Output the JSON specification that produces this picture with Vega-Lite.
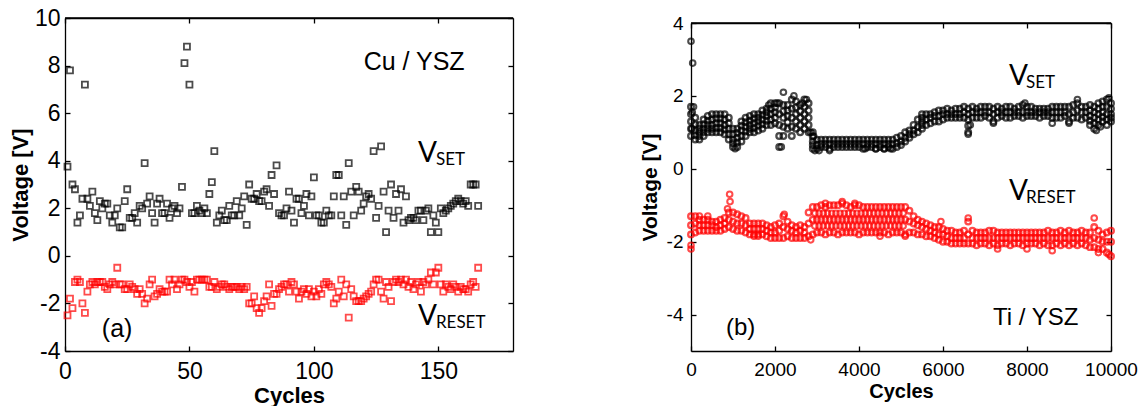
{
  "$schema": "https://vega.github.io/schema/vega-lite/v6.json",
  "padding": {"left": 9, "top": 7, "right": 0, "bottom": 0},
  "config": {
    "view": {"stroke": null},
    "font": "Liberation Sans",
    "axis": {"grid": false, "domainColor": "black", "tickColor": "black", "labelColor": "black", "titleColor": "black", "domainWidth": 1.3, "tickWidth": 1.3, "labelFont": "Liberation Sans", "titleFont": "Liberation Sans", "labelFlush": false, "labelOverlap": false}
  },
  "datasets": {
    "cuSet": [
      {"n":1,"v":3.75},{"n":2,"v":7.8},{"n":3,"v":3.0},{"n":4,"v":2.8},{"n":5,"v":1.4},{"n":6,"v":1.7},{"n":7,"v":2.4},{"n":8,"v":7.2},{"n":9,"v":2.4},{"n":10,"v":2.1},
      {"n":11,"v":2.7},{"n":12,"v":1.8},{"n":13,"v":1.5},{"n":14,"v":2.3},{"n":15,"v":2.0},{"n":16,"v":2.2},{"n":17,"v":2.2},{"n":18,"v":1.7},{"n":19,"v":1.4},{"n":20,"v":1.7},
      {"n":21,"v":2.0},{"n":22,"v":1.2},{"n":23,"v":1.2},{"n":24,"v":2.3},{"n":25,"v":2.8},{"n":26,"v":1.6},{"n":27,"v":1.6},{"n":28,"v":1.8},{"n":29,"v":1.4},{"n":30,"v":2.1},
      {"n":31,"v":2.0},{"n":32,"v":3.9},{"n":33,"v":2.2},{"n":34,"v":2.5},{"n":35,"v":1.8},{"n":36,"v":1.4},{"n":37,"v":2.2},{"n":38,"v":2.4},{"n":39,"v":1.8},{"n":40,"v":1.8},
      {"n":41,"v":2.2},{"n":42,"v":1.6},{"n":43,"v":2.0},{"n":44,"v":2.1},{"n":45,"v":1.8},{"n":46,"v":2.0},{"n":47,"v":2.9},{"n":48,"v":8.1},{"n":49,"v":8.8},{"n":50,"v":7.2},
      {"n":51,"v":1.8},{"n":52,"v":1.8},{"n":53,"v":2.1},{"n":54,"v":1.9},{"n":55,"v":1.8},{"n":56,"v":2.0},{"n":57,"v":1.8},{"n":58,"v":2.6},{"n":59,"v":3.1},{"n":60,"v":4.4},
      {"n":61,"v":1.4},{"n":62,"v":1.7},{"n":63,"v":1.9},{"n":64,"v":1.5},{"n":65,"v":1.5},{"n":66,"v":2.1},{"n":67,"v":1.7},{"n":68,"v":1.7},{"n":69,"v":2.3},{"n":70,"v":1.7},
      {"n":71,"v":2.0},{"n":72,"v":2.5},{"n":73,"v":1.3},{"n":74,"v":3.0},{"n":75,"v":2.4},{"n":76,"v":2.4},{"n":77,"v":2.6},{"n":78,"v":2.3},{"n":79,"v":2.3},{"n":80,"v":2.7},
      {"n":81,"v":2.8},{"n":82,"v":2.1},{"n":83,"v":3.4},{"n":84,"v":2.6},{"n":85,"v":3.8},{"n":86,"v":1.8},{"n":87,"v":1.7},{"n":88,"v":1.7},{"n":89,"v":2.0},{"n":90,"v":2.7},
      {"n":91,"v":1.9},{"n":92,"v":1.4},{"n":93,"v":2.4},{"n":94,"v":2.4},{"n":95,"v":1.8},{"n":96,"v":2.1},{"n":97,"v":2.6},{"n":98,"v":1.7},{"n":99,"v":2.5},{"n":100,"v":3.3},
      {"n":101,"v":1.7},{"n":102,"v":1.7},{"n":103,"v":1.4},{"n":104,"v":1.4},{"n":105,"v":1.9},{"n":106,"v":1.7},{"n":107,"v":1.7},{"n":108,"v":2.5},{"n":109,"v":3.4},{"n":110,"v":3.4},
      {"n":111,"v":1.7},{"n":112,"v":2.5},{"n":113,"v":1.3},{"n":114,"v":3.9},{"n":115,"v":2.7},{"n":116,"v":1.7},{"n":117,"v":2.9},{"n":118,"v":2.7},{"n":119,"v":1.9},{"n":120,"v":2.2},
      {"n":121,"v":2.5},{"n":122,"v":2.6},{"n":123,"v":2.4},{"n":124,"v":4.4},{"n":125,"v":1.6},{"n":126,"v":2.1},{"n":127,"v":4.6},{"n":128,"v":2.7},{"n":129,"v":1.0},{"n":130,"v":1.9},
      {"n":131,"v":3.0},{"n":132,"v":1.6},{"n":133,"v":2.6},{"n":134,"v":1.9},{"n":135,"v":2.8},{"n":136,"v":1.4},{"n":137,"v":2.5},{"n":138,"v":1.5},{"n":139,"v":1.6},{"n":140,"v":1.6},
      {"n":141,"v":1.5},{"n":142,"v":1.9},{"n":143,"v":1.9},{"n":144,"v":1.5},{"n":145,"v":1.9},{"n":146,"v":2.0},{"n":147,"v":1.0},{"n":148,"v":1.7},{"n":149,"v":1.4},{"n":150,"v":1.0},
      {"n":151,"v":2.0},{"n":152,"v":1.8},{"n":153,"v":1.9},{"n":154,"v":2.0},{"n":155,"v":2.1},{"n":156,"v":2.2},{"n":157,"v":2.3},{"n":158,"v":2.4},{"n":159,"v":2.3},{"n":160,"v":2.2},
      {"n":161,"v":2.3},{"n":162,"v":2.1},{"n":163,"v":3.0},{"n":164,"v":3.0},{"n":165,"v":3.0},{"n":166,"v":2.1}
    ],
    "cuReset": [
      {"n":1,"v":-2.5},{"n":2,"v":-1.8},{"n":3,"v":-2.2},{"n":4,"v":-1.1},{"n":5,"v":-1.0},{"n":6,"v":-1.1},{"n":7,"v":-2.0},{"n":8,"v":-2.4},{"n":9,"v":-1.5},{"n":10,"v":-1.2},
      {"n":11,"v":-1.1},{"n":12,"v":-1.2},{"n":13,"v":-1.1},{"n":14,"v":-1.1},{"n":15,"v":-1.1},{"n":16,"v":-1.3},{"n":17,"v":-1.4},{"n":18,"v":-1.2},{"n":19,"v":-1.1},{"n":20,"v":-1.2},
      {"n":21,"v":-0.5},{"n":22,"v":-1.2},{"n":23,"v":-1.2},{"n":24,"v":-1.4},{"n":25,"v":-1.4},{"n":26,"v":-1.2},{"n":27,"v":-1.3},{"n":28,"v":-1.4},{"n":29,"v":-1.6},{"n":30,"v":-1.4},
      {"n":31,"v":-1.6},{"n":32,"v":-2.0},{"n":33,"v":-1.8},{"n":34,"v":-1.2},{"n":35,"v":-1.0},{"n":36,"v":-1.7},{"n":37,"v":-1.6},{"n":38,"v":-1.4},{"n":39,"v":-1.5},{"n":40,"v":-1.5},
      {"n":41,"v":-1.5},{"n":42,"v":-1.0},{"n":43,"v":-1.2},{"n":44,"v":-1.0},{"n":45,"v":-1.4},{"n":46,"v":-1.2},{"n":47,"v":-1.0},{"n":48,"v":-1.0},{"n":49,"v":-1.1},{"n":50,"v":-1.3},
      {"n":51,"v":-1.1},{"n":52,"v":-1.5},{"n":53,"v":-1.0},{"n":54,"v":-1.0},{"n":55,"v":-1.0},{"n":56,"v":-1.0},{"n":57,"v":-1.0},{"n":58,"v":-1.3},{"n":59,"v":-1.3},{"n":60,"v":-1.1},
      {"n":61,"v":-1.4},{"n":62,"v":-1.3},{"n":63,"v":-1.2},{"n":64,"v":-1.2},{"n":65,"v":-1.3},{"n":66,"v":-1.4},{"n":67,"v":-1.3},{"n":68,"v":-1.3},{"n":69,"v":-1.3},{"n":70,"v":-1.4},
      {"n":71,"v":-1.3},{"n":72,"v":-1.4},{"n":73,"v":-1.3},{"n":74,"v":-2.0},{"n":75,"v":-2.0},{"n":76,"v":-1.7},{"n":77,"v":-2.2},{"n":78,"v":-2.4},{"n":79,"v":-2.2},{"n":80,"v":-1.9},
      {"n":81,"v":-1.7},{"n":82,"v":-1.2},{"n":83,"v":-2.1},{"n":84,"v":-1.6},{"n":85,"v":-1.6},{"n":86,"v":-1.4},{"n":87,"v":-1.3},{"n":88,"v":-1.2},{"n":89,"v":-1.2},{"n":90,"v":-1.5},
      {"n":91,"v":-1.1},{"n":92,"v":-1.2},{"n":93,"v":-1.5},{"n":94,"v":-1.8},{"n":95,"v":-1.5},{"n":96,"v":-1.4},{"n":97,"v":-1.6},{"n":98,"v":-1.4},{"n":99,"v":-1.7},{"n":100,"v":-1.5},
      {"n":101,"v":-1.7},{"n":102,"v":-1.4},{"n":103,"v":-1.6},{"n":104,"v":-1.2},{"n":105,"v":-1.1},{"n":106,"v":-1.2},{"n":107,"v":-1.3},{"n":108,"v":-2.0},{"n":109,"v":-1.8},{"n":110,"v":-1.5},
      {"n":111,"v":-1.0},{"n":112,"v":-1.7},{"n":113,"v":-1.2},{"n":114,"v":-2.6},{"n":115,"v":-1.4},{"n":116,"v":-1.7},{"n":117,"v":-1.9},{"n":118,"v":-1.9},{"n":119,"v":-1.9},{"n":120,"v":-1.8},
      {"n":121,"v":-1.7},{"n":122,"v":-1.6},{"n":123,"v":-1.5},{"n":124,"v":-1.2},{"n":125,"v":-1.0},{"n":126,"v":-1.0},{"n":127,"v":-1.5},{"n":128,"v":-1.8},{"n":129,"v":-1.1},{"n":130,"v":-1.3},
      {"n":131,"v":-1.9},{"n":132,"v":-1.1},{"n":133,"v":-1.0},{"n":134,"v":-1.1},{"n":135,"v":-1.0},{"n":136,"v":-1.2},{"n":137,"v":-1.0},{"n":138,"v":-1.3},{"n":139,"v":-1.1},{"n":140,"v":-1.4},
      {"n":141,"v":-1.2},{"n":142,"v":-1.1},{"n":143,"v":-1.5},{"n":144,"v":-1.1},{"n":145,"v":-1.2},{"n":146,"v":-1.0},{"n":147,"v":-0.7},{"n":148,"v":-1.2},{"n":149,"v":-0.7},{"n":150,"v":-0.5},
      {"n":151,"v":-1.2},{"n":152,"v":-1.5},{"n":153,"v":-1.2},{"n":154,"v":-1.3},{"n":155,"v":-1.4},{"n":156,"v":-1.2},{"n":157,"v":-1.3},{"n":158,"v":-1.5},{"n":159,"v":-1.3},{"n":160,"v":-1.4},
      {"n":161,"v":-1.4},{"n":162,"v":-1.5},{"n":163,"v":-1.2},{"n":164,"v":-1.1},{"n":165,"v":-1.3},{"n":166,"v":-0.5}
    ],
    "ti": [
      {"c":0,"s1":0.9,"s2":1.3,"s3":1.7,"s4":1.1,"s5":1.5,"r1":-1.8,"r2":-1.55,"r3":-1.3},
      {"c":100,"s1":0.8,"s2":1.05,"s3":1.4,"s4":0.92,"s5":1.22,"r1":-1.75,"r2":-1.5,"r3":-1.3},
      {"c":200,"s1":0.8,"s2":1.0,"s3":1.2,"s4":0.9,"s5":1.1,"r1":-1.7,"r2":-1.55,"r3":-1.4},
      {"c":300,"s1":0.9,"s2":1.1,"s3":1.35,"s4":1.0,"s5":1.22,"r1":-1.7,"r2":-1.55,"r3":-1.4},
      {"c":400,"s1":1.0,"s2":1.2,"s3":1.45,"s4":1.1,"s5":1.32,"r1":-1.7,"r2":-1.55,"r3":-1.4},
      {"c":500,"s1":1.0,"s2":1.2,"s3":1.5,"s4":1.1,"s5":1.35,"r1":-1.7,"r2":-1.55,"r3":-1.45},
      {"c":600,"s1":1.0,"s2":1.25,"s3":1.5,"s4":1.12,"s5":1.38,"r1":-1.7,"r2":-1.6,"r3":-1.45},
      {"c":700,"s1":1.0,"s2":1.25,"s3":1.5,"s4":1.12,"s5":1.38,"r1":-1.7,"r2":-1.55,"r3":-1.4},
      {"c":800,"s1":0.95,"s2":1.2,"s3":1.5,"s4":1.08,"s5":1.35,"r1":-1.65,"r2":-1.5,"r3":-1.35},
      {"c":900,"s1":0.8,"s2":1.1,"s3":1.4,"s4":0.95,"s5":1.25,"r1":-1.6,"r2":-1.4,"r3":-1.2},
      {"c":1000,"s1":0.6,"s2":0.8,"s3":1.1,"s4":0.7,"s5":0.95,"r1":-1.65,"r2":-1.45,"r3":-1.2},
      {"c":1100,"s1":0.6,"s2":0.85,"s3":1.1,"s4":0.72,"s5":0.98,"r1":-1.7,"r2":-1.5,"r3":-1.25},
      {"c":1200,"s1":0.75,"s2":1.05,"s3":1.3,"s4":0.9,"s5":1.18,"r1":-1.7,"r2":-1.5,"r3":-1.3},
      {"c":1300,"s1":0.9,"s2":1.15,"s3":1.4,"s4":1.02,"s5":1.28,"r1":-1.75,"r2":-1.55,"r3":-1.35},
      {"c":1400,"s1":1.0,"s2":1.2,"s3":1.45,"s4":1.1,"s5":1.32,"r1":-1.8,"r2":-1.65,"r3":-1.5},
      {"c":1500,"s1":1.0,"s2":1.25,"s3":1.5,"s4":1.12,"s5":1.38,"r1":-1.8,"r2":-1.65,"r3":-1.5},
      {"c":1600,"s1":1.05,"s2":1.3,"s3":1.5,"s4":1.18,"s5":1.4,"r1":-1.8,"r2":-1.65,"r3":-1.5},
      {"c":1700,"s1":1.1,"s2":1.35,"s3":1.6,"s4":1.22,"s5":1.48,"r1":-1.8,"r2":-1.65,"r3":-1.5},
      {"c":1800,"s1":1.2,"s2":1.45,"s3":1.65,"s4":1.32,"s5":1.55,"r1":-1.85,"r2":-1.7,"r3":-1.55},
      {"c":1900,"s1":1.2,"s2":1.5,"s3":1.8,"s4":1.35,"s5":1.65,"r1":-1.9,"r2":-1.75,"r3":-1.6},
      {"c":2000,"s1":1.25,"s2":1.55,"s3":1.8,"s4":1.4,"s5":1.68,"r1":-1.9,"r2":-1.75,"r3":-1.55},
      {"c":2100,"s1":0.6,"s2":1.2,"s3":1.8,"s4":0.9,"s5":1.5,"r1":-1.9,"r2":-1.7,"r3":-1.5},
      {"c":2200,"s1":0.9,"s2":1.4,"s3":1.75,"s4":1.15,"s5":1.58,"r1":-1.9,"r2":-1.6,"r3":-1.3},
      {"c":2300,"s1":1.1,"s2":1.45,"s3":1.75,"s4":1.28,"s5":1.6,"r1":-1.85,"r2":-1.65,"r3":-1.45},
      {"c":2400,"s1":0.9,"s2":1.4,"s3":1.9,"s4":1.15,"s5":1.65,"r1":-1.9,"r2":-1.7,"r3":-1.55},
      {"c":2500,"s1":1.1,"s2":1.5,"s3":1.85,"s4":1.3,"s5":1.68,"r1":-1.9,"r2":-1.75,"r3":-1.6},
      {"c":2600,"s1":1.0,"s2":1.4,"s3":1.75,"s4":1.2,"s5":1.58,"r1":-1.9,"r2":-1.7,"r3":-1.55},
      {"c":2700,"s1":1.1,"s2":1.5,"s3":1.9,"s4":1.3,"s5":1.7,"r1":-1.9,"r2":-1.75,"r3":-1.6},
      {"c":2800,"s1":1.0,"s2":1.4,"s3":1.8,"s4":1.2,"s5":1.6,"r1":-1.85,"r2":-1.5,"r3":-1.2},
      {"c":2900,"s1":0.55,"s2":0.75,"s3":1.0,"s4":0.65,"s5":0.88,"r1":-1.8,"r2":-1.4,"r3":-1.05},
      {"c":3000,"s1":0.55,"s2":0.65,"s3":0.8,"r1":-1.75,"r2":-1.4,"r3":-1.05},
      {"c":3100,"s1":0.6,"s2":0.68,"s3":0.8,"r1":-1.75,"r2":-1.4,"r3":-1.0},
      {"c":3200,"s1":0.6,"s2":0.68,"s3":0.8,"r1":-1.8,"r2":-1.4,"r3":-1.05},
      {"c":3300,"s1":0.55,"s2":0.68,"s3":0.8,"r1":-1.75,"r2":-1.4,"r3":-1.0},
      {"c":3400,"s1":0.6,"s2":0.68,"s3":0.8,"r1":-1.75,"r2":-1.4,"r3":-1.0},
      {"c":3500,"s1":0.6,"s2":0.68,"s3":0.8,"r1":-1.8,"r2":-1.4,"r3":-1.0},
      {"c":3600,"s1":0.6,"s2":0.68,"s3":0.8,"r1":-1.75,"r2":-1.4,"r3":-0.95},
      {"c":3700,"s1":0.6,"s2":0.68,"s3":0.8,"r1":-1.75,"r2":-1.4,"r3":-1.0},
      {"c":3800,"s1":0.6,"s2":0.68,"s3":0.8,"r1":-1.75,"r2":-1.4,"r3":-1.05},
      {"c":3900,"s1":0.6,"s2":0.68,"s3":0.8,"r1":-1.75,"r2":-1.4,"r3":-1.0},
      {"c":4000,"s1":0.6,"s2":0.68,"s3":0.8,"r1":-1.8,"r2":-1.4,"r3":-1.0},
      {"c":4100,"s1":0.55,"s2":0.68,"s3":0.8,"r1":-1.75,"r2":-1.4,"r3":-1.05},
      {"c":4200,"s1":0.6,"s2":0.68,"s3":0.8,"r1":-1.75,"r2":-1.4,"r3":-1.05},
      {"c":4300,"s1":0.6,"s2":0.68,"s3":0.8,"r1":-1.75,"r2":-1.4,"r3":-1.05},
      {"c":4400,"s1":0.55,"s2":0.68,"s3":0.8,"r1":-1.75,"r2":-1.4,"r3":-1.05},
      {"c":4500,"s1":0.6,"s2":0.68,"s3":0.8,"r1":-1.75,"r2":-1.4,"r3":-1.05},
      {"c":4600,"s1":0.55,"s2":0.68,"s3":0.8,"r1":-1.75,"r2":-1.4,"r3":-1.05},
      {"c":4700,"s1":0.6,"s2":0.68,"s3":0.8,"r1":-1.8,"r2":-1.4,"r3":-1.05},
      {"c":4800,"s1":0.55,"s2":0.68,"s3":0.8,"r1":-1.75,"r2":-1.4,"r3":-1.05},
      {"c":4900,"s1":0.6,"s2":0.7,"s3":0.85,"r1":-1.75,"r2":-1.4,"r3":-1.05},
      {"c":5000,"s1":0.65,"s2":0.75,"s3":0.9,"r1":-1.75,"r2":-1.4,"r3":-1.05},
      {"c":5100,"s1":0.75,"s2":0.85,"s3":1.0,"r1":-1.8,"r2":-1.4,"r3":-1.05},
      {"c":5200,"s1":0.85,"s2":0.95,"s3":1.05,"r1":-1.75,"r2":-1.45,"r3":-1.15},
      {"c":5300,"s1":0.95,"s2":1.05,"s3":1.2,"r1":-1.75,"r2":-1.5,"r3":-1.3},
      {"c":5400,"s1":1.0,"s2":1.15,"s3":1.35,"r1":-1.8,"r2":-1.55,"r3":-1.4},
      {"c":5500,"s1":1.1,"s2":1.3,"s3":1.5,"s4":1.2,"s5":1.4,"r1":-1.8,"r2":-1.6,"r3":-1.45},
      {"c":5600,"s1":1.2,"s2":1.35,"s3":1.5,"r1":-1.85,"r2":-1.65,"r3":-1.5},
      {"c":5700,"s1":1.25,"s2":1.4,"s3":1.5,"r1":-1.85,"r2":-1.7,"r3":-1.55},
      {"c":5800,"s1":1.3,"s2":1.45,"s3":1.55,"r1":-1.9,"r2":-1.75,"r3":-1.6},
      {"c":5900,"s1":1.3,"s2":1.45,"s3":1.6,"r1":-1.95,"r2":-1.8,"r3":-1.6},
      {"c":6000,"s1":1.35,"s2":1.5,"s3":1.6,"r1":-2.0,"r2":-1.8,"r3":-1.65},
      {"c":6100,"s1":1.4,"s2":1.5,"s3":1.65,"r1":-2.0,"r2":-1.85,"r3":-1.7},
      {"c":6200,"s1":1.4,"s2":1.5,"s3":1.6,"r1":-2.05,"r2":-1.9,"r3":-1.7},
      {"c":6300,"s1":1.4,"s2":1.5,"s3":1.65,"r1":-2.05,"r2":-1.9,"r3":-1.75},
      {"c":6400,"s1":1.4,"s2":1.5,"s3":1.65,"r1":-2.05,"r2":-1.9,"r3":-1.75},
      {"c":6500,"s1":1.4,"s2":1.55,"s3":1.7,"r1":-2.05,"r2":-1.9,"r3":-1.7},
      {"c":6600,"s1":1.0,"s2":1.35,"s3":1.65,"s4":1.18,"s5":1.5,"r1":-2.05,"r2":-1.8,"r3":-1.45},
      {"c":6700,"s1":1.4,"s2":1.55,"s3":1.7,"r1":-2.05,"r2":-1.9,"r3":-1.7},
      {"c":6800,"s1":1.4,"s2":1.55,"s3":1.65,"r1":-2.1,"r2":-1.9,"r3":-1.75},
      {"c":6900,"s1":1.4,"s2":1.55,"s3":1.7,"r1":-2.05,"r2":-1.9,"r3":-1.75},
      {"c":7000,"s1":1.45,"s2":1.55,"s3":1.7,"r1":-2.05,"r2":-1.9,"r3":-1.75},
      {"c":7100,"s1":1.4,"s2":1.55,"s3":1.7,"r1":-2.1,"r2":-1.9,"r3":-1.7},
      {"c":7200,"s1":1.3,"s2":1.5,"s3":1.65,"r1":-2.05,"r2":-1.9,"r3":-1.7},
      {"c":7300,"s1":1.4,"s2":1.55,"s3":1.7,"r1":-2.1,"r2":-1.9,"r3":-1.75},
      {"c":7400,"s1":1.45,"s2":1.55,"s3":1.65,"r1":-2.05,"r2":-1.9,"r3":-1.75},
      {"c":7500,"s1":1.4,"s2":1.55,"s3":1.7,"r1":-2.05,"r2":-1.9,"r3":-1.75},
      {"c":7600,"s1":1.4,"s2":1.55,"s3":1.7,"r1":-2.1,"r2":-1.9,"r3":-1.75},
      {"c":7700,"s1":1.45,"s2":1.55,"s3":1.65,"r1":-2.05,"r2":-1.9,"r3":-1.75},
      {"c":7800,"s1":1.45,"s2":1.55,"s3":1.7,"r1":-2.05,"r2":-1.9,"r3":-1.75},
      {"c":7900,"s1":1.4,"s2":1.55,"s3":1.75,"r1":-2.1,"r2":-1.9,"r3":-1.75},
      {"c":8000,"s1":1.45,"s2":1.55,"s3":1.7,"r1":-2.05,"r2":-1.9,"r3":-1.75},
      {"c":8100,"s1":1.45,"s2":1.55,"s3":1.7,"r1":-2.05,"r2":-1.9,"r3":-1.75},
      {"c":8200,"s1":1.45,"s2":1.55,"s3":1.65,"r1":-2.05,"r2":-1.9,"r3":-1.75},
      {"c":8300,"s1":1.4,"s2":1.55,"s3":1.65,"r1":-2.1,"r2":-1.9,"r3":-1.75},
      {"c":8400,"s1":1.45,"s2":1.55,"s3":1.65,"r1":-2.05,"r2":-1.9,"r3":-1.75},
      {"c":8500,"s1":1.45,"s2":1.55,"s3":1.65,"r1":-2.1,"r2":-1.9,"r3":-1.7},
      {"c":8600,"s1":1.4,"s2":1.55,"s3":1.7,"r1":-2.1,"r2":-1.9,"r3":-1.75},
      {"c":8700,"s1":1.4,"s2":1.55,"s3":1.7,"r1":-2.05,"r2":-1.9,"r3":-1.75},
      {"c":8800,"s1":1.4,"s2":1.55,"s3":1.7,"r1":-2.1,"r2":-1.9,"r3":-1.7},
      {"c":8900,"s1":1.45,"s2":1.55,"s3":1.7,"r1":-2.05,"r2":-1.9,"r3":-1.75},
      {"c":9000,"s1":1.3,"s2":1.5,"s3":1.7,"r1":-2.1,"r2":-1.9,"r3":-1.7},
      {"c":9100,"s1":1.4,"s2":1.55,"s3":1.75,"r1":-2.05,"r2":-1.9,"r3":-1.75},
      {"c":9200,"s1":1.4,"s2":1.6,"s3":1.8,"r1":-2.1,"r2":-1.9,"r3":-1.75},
      {"c":9300,"s1":1.35,"s2":1.55,"s3":1.7,"r1":-2.05,"r2":-1.9,"r3":-1.7},
      {"c":9400,"s1":1.4,"s2":1.55,"s3":1.7,"r1":-2.1,"r2":-1.9,"r3":-1.75},
      {"c":9500,"s1":1.2,"s2":1.45,"s3":1.75,"s4":1.32,"s5":1.6,"r1":-2.15,"r2":-1.95,"r3":-1.75},
      {"c":9600,"s1":1.1,"s2":1.4,"s3":1.7,"s4":1.25,"s5":1.55,"r1":-2.15,"r2":-1.9,"r3":-1.6},
      {"c":9700,"s1":1.2,"s2":1.5,"s3":1.8,"s4":1.35,"s5":1.65,"r1":-2.2,"r2":-1.95,"r3":-1.7},
      {"c":9800,"s1":1.3,"s2":1.55,"s3":1.85,"s4":1.42,"s5":1.7,"r1":-2.2,"r2":-2.0,"r3":-1.8},
      {"c":9900,"s1":1.2,"s2":1.5,"s3":1.9,"s4":1.35,"s5":1.7,"r1":-2.3,"r2":-2.0,"r3":-1.75},
      {"c":10000,"s1":1.3,"s2":1.5,"s3":1.8,"s4":1.4,"s5":1.65,"r1":-2.4,"r2":-2.0,"r3":-1.7}
    ],
    "tiSetX": [
      {"c":0,"v":3.5},{"c":40,"v":2.9},{"c":60,"v":1.7},{"c":30,"v":1.55},{"c":20,"v":1.1},{"c":1050,"v":0.55},{"c":1850,"v":1.75},{"c":2050,"v":1.8},{"c":2150,"v":0.6},{"c":2200,"v":2.1},
      {"c":2450,"v":2.0},{"c":2650,"v":1.8},{"c":2750,"v":1.9},{"c":2850,"v":1.0},{"c":2920,"v":0.9},{"c":2950,"v":0.5},{"c":3050,"v":0.5},{"c":3300,"v":0.5},{"c":4150,"v":0.55},{"c":4400,"v":0.55},
      {"c":4600,"v":0.55},{"c":4750,"v":0.55},{"c":6600,"v":0.95},{"c":6650,"v":1.2},{"c":7200,"v":1.25},{"c":7950,"v":1.8},{"c":8600,"v":1.25},{"c":9000,"v":1.25},{"c":9200,"v":1.9},{"c":9650,"v":1.05},
      {"c":9750,"v":1.15},{"c":9950,"v":1.95}
    ],
    "tiResetX": [
      {"c":0,"v":-2.1},{"c":0,"v":-2.2},{"c":200,"v":-1.3},{"c":400,"v":-1.3},{"c":870,"v":-1.1},{"c":920,"v":-0.7},{"c":930,"v":-0.9},{"c":1500,"v":-1.85},{"c":1600,"v":-1.85},{"c":2220,"v":-1.25},
      {"c":2850,"v":-1.95},{"c":3200,"v":-0.95},{"c":3600,"v":-0.9},{"c":3900,"v":-0.95},{"c":4500,"v":-1.85},{"c":5100,"v":-1.85},{"c":5950,"v":-1.45},{"c":6600,"v":-1.35},{"c":7300,"v":-2.2},{"c":8000,"v":-2.2},
      {"c":8600,"v":-2.25},{"c":9600,"v":-1.35},{"c":9700,"v":-2.3},{"c":9950,"v":-2.35},
      {"c":2950,"v":-1.57},{"c":2950,"v":-1.22},{"c":3050,"v":-1.57},{"c":3050,"v":-1.22},{"c":3150,"v":-1.57},{"c":3150,"v":-1.22},{"c":3250,"v":-1.57},{"c":3250,"v":-1.22},
      {"c":3350,"v":-1.57},{"c":3350,"v":-1.22},{"c":3450,"v":-1.57},{"c":3450,"v":-1.22},{"c":3550,"v":-1.57},{"c":3550,"v":-1.22},{"c":3650,"v":-1.57},{"c":3650,"v":-1.22},
      {"c":3750,"v":-1.57},{"c":3750,"v":-1.22},{"c":3850,"v":-1.57},{"c":3850,"v":-1.22},{"c":3950,"v":-1.57},{"c":3950,"v":-1.22},{"c":4050,"v":-1.57},{"c":4050,"v":-1.22},
      {"c":4150,"v":-1.57},{"c":4150,"v":-1.22},{"c":4250,"v":-1.57},{"c":4250,"v":-1.22},{"c":4350,"v":-1.57},{"c":4350,"v":-1.22},{"c":4450,"v":-1.57},{"c":4450,"v":-1.22},
      {"c":4550,"v":-1.57},{"c":4550,"v":-1.22},{"c":4650,"v":-1.57},{"c":4650,"v":-1.22},{"c":4750,"v":-1.57},{"c":4750,"v":-1.22},{"c":4850,"v":-1.57},{"c":4850,"v":-1.22},
      {"c":4950,"v":-1.57},{"c":4950,"v":-1.22},{"c":5050,"v":-1.57},{"c":5050,"v":-1.22}
    ]
  },
  "spacing": 125,
  "hconcat": [
    {
      "width": 448,
      "height": 333,
      "resolve": {"axis": {"x": "independent", "y": "independent"}},
      "layer": [
        {
          "data": {"name": "cuSet"},
          "mark": {"type": "point", "shape": "square", "filled": false, "color": "black", "size": 36, "strokeWidth": 1.8},
          "encoding": {
            "x": {"field": "n", "type": "quantitative", "scale": {"domain": [0, 180], "nice": false, "zero": false},
                  "axis": {"orient": "bottom", "values": [0, 50, 100, 150], "tickSize": -5, "labelPadding": 14, "labelFontSize": 23, "labelExpr": "'' + datum.value", "title": "Cycles", "titleFontSize": 22, "titleFontWeight": "bold", "titlePadding": 2}},
            "y": {"field": "v", "type": "quantitative", "scale": {"domain": [-4, 10], "nice": false, "zero": false},
                  "axis": {"orient": "left", "values": [-4, -2, 0, 2, 4, 6, 8, 10], "tickSize": -5, "labelPadding": 10, "labelFontSize": 23, "labelExpr": "'' + datum.value", "title": "Voltage [V]", "titleFontSize": 22, "titleFontWeight": "bold", "titlePadding": 2}}
          }
        },
        {
          "data": {"name": "cuReset"},
          "mark": {"type": "point", "shape": "square", "filled": false, "color": "#ff0000", "size": 36, "strokeWidth": 1.8},
          "encoding": {
            "x": {"field": "n", "type": "quantitative", "axis": {"orient": "top", "values": [0, 50, 100, 150], "tickSize": -5, "labels": false, "title": null}},
            "y": {"field": "v", "type": "quantitative", "axis": {"orient": "right", "values": [-4, -2, 0, 2, 4, 6, 8, 10], "tickSize": -5, "labels": false, "title": null}}
          }
        },
        {
          "data": {"values": [{}]},
          "mark": {"type": "rule", "color": "black", "strokeWidth": 1.3},
          "encoding": {"y": {"datum": 10, "type": "quantitative", "axis": null}}
        },
        {
          "data": {"values": [{}]},
          "mark": {"type": "text", "text": "Cu / YSZ", "font": "Liberation Sans", "fontSize": 25, "align": "left", "baseline": "alphabetic", "color": "black"},
          "encoding": {"x": {"datum": 120, "type": "quantitative", "axis": null}, "y": {"datum": 7.8, "type": "quantitative", "axis": null}}
        },
        {
          "data": {"values": [{}]},
          "mark": {"type": "text", "text": "(a)", "font": "Liberation Sans", "fontSize": 25, "align": "left", "baseline": "alphabetic", "color": "black"},
          "encoding": {"x": {"datum": 14.8, "type": "quantitative", "axis": null}, "y": {"datum": -3.4, "type": "quantitative", "axis": null}}
        },
        {
          "data": {"values": [{}]},
          "mark": {"type": "text", "text": "V", "font": "Lato", "fontSize": 28, "align": "left", "baseline": "alphabetic", "color": "black"},
          "encoding": {"x": {"datum": 141.8, "type": "quantitative", "axis": null}, "y": {"datum": 3.95, "type": "quantitative", "axis": null}}
        },
        {
          "data": {"values": [{}]},
          "mark": {"type": "text", "text": "SET", "font": "Lato", "fontSize": 17, "align": "left", "baseline": "alphabetic", "color": "black", "dx": 18, "dy": 3},
          "encoding": {"x": {"datum": 141.8, "type": "quantitative", "axis": null}, "y": {"datum": 3.95, "type": "quantitative", "axis": null}}
        },
        {
          "data": {"values": [{}]},
          "mark": {"type": "text", "text": "V", "font": "Lato", "fontSize": 28, "align": "left", "baseline": "alphabetic", "color": "black"},
          "encoding": {"x": {"datum": 141.8, "type": "quantitative", "axis": null}, "y": {"datum": -2.9, "type": "quantitative", "axis": null}}
        },
        {
          "data": {"values": [{}]},
          "mark": {"type": "text", "text": "RESET", "font": "Lato", "fontSize": 17, "align": "left", "baseline": "alphabetic", "color": "black", "dx": 18, "dy": 3},
          "encoding": {"x": {"datum": 141.8, "type": "quantitative", "axis": null}, "y": {"datum": -2.9, "type": "quantitative", "axis": null}}
        }
      ]
    },
    {
      "width": 420,
      "height": 333,
      "resolve": {"axis": {"x": "independent", "y": "independent"}},
      "layer": [
        {
          "data": {"name": "ti"},
          "transform": [{"fold": ["s1", "s2", "s3", "s4", "s5"], "as": ["k", "v"]}],
          "mark": {"type": "point", "shape": "circle", "filled": false, "color": "black", "size": 32, "strokeWidth": 2.3},
          "encoding": {
            "x": {"field": "c", "type": "quantitative", "scale": {"domain": [0, 10000], "nice": false, "zero": false},
                  "axis": {"orient": "bottom", "values": [0, 2000, 4000, 6000, 8000, 10000], "tickSize": -5, "labelPadding": 14, "labelFontSize": 19, "labelExpr": "'' + datum.value", "title": "Cycles", "titleFontSize": 20, "titleFontWeight": "bold", "titlePadding": 2}},
            "y": {"field": "v", "type": "quantitative", "scale": {"domain": [-5, 4], "nice": false, "zero": false, "range": [333, 5]},
                  "axis": {"orient": "left", "values": [-4, -2, 0, 2, 4], "tickSize": -5, "labelPadding": 13, "labelFontSize": 19, "labelExpr": "'' + datum.value", "title": "Voltage [V]", "titleFontSize": 21, "titleFontWeight": "bold", "titlePadding": 6}}
          }
        },
        {
          "data": {"name": "tiSetX"},
          "mark": {"type": "point", "shape": "circle", "filled": false, "color": "black", "size": 32, "strokeWidth": 2.0},
          "encoding": {
            "x": {"field": "c", "type": "quantitative", "axis": null},
            "y": {"field": "v", "type": "quantitative", "axis": null}
          }
        },
        {
          "data": {"name": "ti"},
          "transform": [{"fold": ["r1", "r2", "r3"], "as": ["k", "v"]}],
          "mark": {"type": "point", "shape": "circle", "filled": false, "color": "#ff0000", "size": 32, "strokeWidth": 2.3},
          "encoding": {
            "x": {"field": "c", "type": "quantitative", "axis": {"orient": "top", "offset": -5, "values": [0, 2000, 4000, 6000, 8000, 10000], "tickSize": -5, "labels": false, "title": null}},
            "y": {"field": "v", "type": "quantitative", "axis": {"orient": "right", "values": [-4, -2, 0, 2, 4], "tickSize": -5, "labels": false, "title": null}}
          }
        },
        {
          "data": {"name": "tiResetX"},
          "mark": {"type": "point", "shape": "circle", "filled": false, "color": "#ff0000", "size": 32, "strokeWidth": 2.0},
          "encoding": {
            "x": {"field": "c", "type": "quantitative", "axis": null},
            "y": {"field": "v", "type": "quantitative", "axis": null}
          }
        },
        {
          "data": {"values": [{}]},
          "mark": {"type": "rule", "color": "black", "strokeWidth": 1.3},
          "encoding": {"y": {"datum": 4, "type": "quantitative", "axis": null}}
        },
        {
          "data": {"values": [{}]},
          "mark": {"type": "text", "text": "V", "font": "Lato", "fontSize": 28, "align": "left", "baseline": "alphabetic", "color": "black"},
          "encoding": {"x": {"datum": 7570, "type": "quantitative", "axis": null}, "y": {"datum": 2.3, "type": "quantitative", "axis": null}}
        },
        {
          "data": {"values": [{}]},
          "mark": {"type": "text", "text": "SET", "font": "Lato", "fontSize": 17, "align": "left", "baseline": "alphabetic", "color": "black", "dx": 17, "dy": 3},
          "encoding": {"x": {"datum": 7570, "type": "quantitative", "axis": null}, "y": {"datum": 2.3, "type": "quantitative", "axis": null}}
        },
        {
          "data": {"values": [{}]},
          "mark": {"type": "text", "text": "V", "font": "Lato", "fontSize": 28, "align": "left", "baseline": "alphabetic", "color": "black"},
          "encoding": {"x": {"datum": 7570, "type": "quantitative", "axis": null}, "y": {"datum": -0.86, "type": "quantitative", "axis": null}}
        },
        {
          "data": {"values": [{}]},
          "mark": {"type": "text", "text": "RESET", "font": "Lato", "fontSize": 17, "align": "left", "baseline": "alphabetic", "color": "black", "dx": 17, "dy": 3},
          "encoding": {"x": {"datum": 7570, "type": "quantitative", "axis": null}, "y": {"datum": -0.86, "type": "quantitative", "axis": null}}
        },
        {
          "data": {"values": [{}]},
          "mark": {"type": "text", "text": "(b)", "font": "Liberation Sans", "fontSize": 24, "align": "left", "baseline": "alphabetic", "color": "black"},
          "encoding": {"x": {"datum": 833, "type": "quantitative", "axis": null}, "y": {"datum": -4.56, "type": "quantitative", "axis": null}}
        },
        {
          "data": {"values": [{}]},
          "mark": {"type": "text", "text": "Ti / YSZ", "font": "Liberation Sans", "fontSize": 24, "align": "left", "baseline": "alphabetic", "color": "black"},
          "encoding": {"x": {"datum": 7190, "type": "quantitative", "axis": null}, "y": {"datum": -4.29, "type": "quantitative", "axis": null}}
        }
      ]
    }
  ]
}
